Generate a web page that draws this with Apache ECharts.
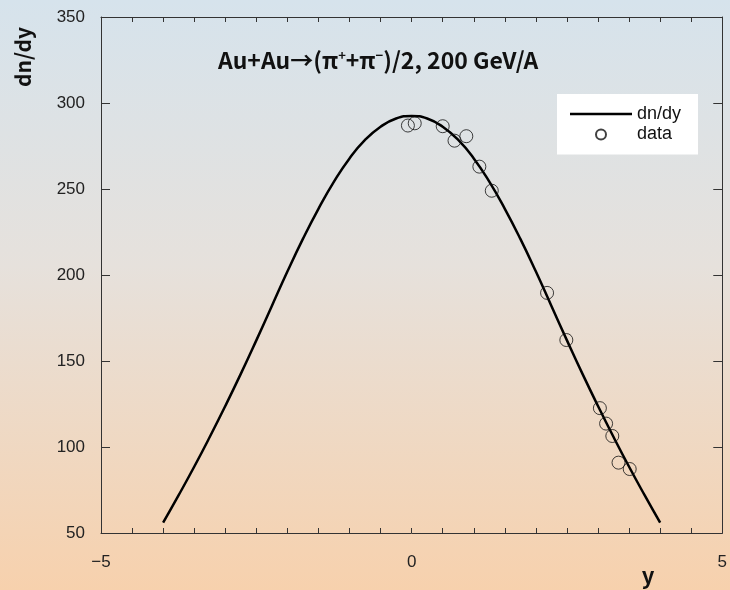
<!DOCTYPE html>
<html>
<head>
<meta charset="utf-8">
<script src="https://cdn.jsdelivr.net/npm/echarts@6/dist/echarts.min.js"></script>
<style>html,body{margin:0;padding:0;}#c{width:730px;height:590px;}</style>
</head>
<body>
<div id="c"></div>
<script>
// Fitted curve dn/dy
var curveX = [-4,-3.75,-3.5,-3.25,-3,-2.75,-2.5,-2.25,-2,-1.75,-1.5,-1.25,-1,-0.75,-0.5,-0.25,0,
              0.25,0.5,0.75,1,1.25,1.5,1.75,2,2.25,2.5,2.75,3,3.25,3.5,3.75,4];
var curveY = [56,72,88.5,105.8,123.8,142.5,162,182,202,221,238.5,254.3,267.8,278.5,286.2,291,292.5,
              291,286.2,278.5,267.8,254.3,238.5,221,202,182,162,142.5,123.8,105.8,88.5,72,56];
// Measured data points
var dataX = [-0.06,0.05,0.50,0.69,0.88,1.09,1.29,2.18,2.49,3.03,3.13,3.23,3.33,3.51];
var dataY = [286.9,288.2,286.5,278.1,280.7,263,249,189.6,162.2,122.6,113.6,106.4,90.9,87.2];
var xTicks = [-5,0,5];
var yTicks = [50,100,150,200,250,300,350];

var curve = curveX.map(function(x,i){return [x,curveY[i]];});
var pts = dataX.map(function(x,i){return [x,dataY[i]];});

var chart = echarts.init(document.getElementById('c'));
var axisCol = '#333';
var numFont = 'Liberation Sans';
function xAx(pos, labels){
  return {
    type:'value', min:-5, max:5, interval:0.5, position:pos,
    axisLine:{show:true,onZero:false,lineStyle:{color:axisCol,width:1}},
    axisTick:{show:true,inside:true,length:5,lineStyle:{color:axisCol}},
    splitLine:{show:false},
    axisLabel:{show:labels,margin:21,fontFamily:numFont,fontSize:17,color:'#222',
      showMinLabel:true,showMaxLabel:true,interval:0,
      formatter:function(v){
        var r=Math.round(v*10)/10;
        return xTicks.indexOf(r)>=0?String(r).replace('-','−'):'';}}
  };
}
function yAx(pos, labels){
  return {
    type:'value', min:50, max:350, interval:50, position:pos,
    axisLine:{show:true,onZero:false,lineStyle:{color:axisCol,width:1}},
    axisTick:{show:true,inside:true,length:9,lineStyle:{color:axisCol}},
    splitLine:{show:false},
    axisLabel:{show:labels,margin:16,fontFamily:numFont,fontSize:17,color:'#222',
      formatter:function(v){return yTicks.indexOf(v)>=0?String(v):'';}}
  };
}
chart.setOption({
  animation:false,
  backgroundColor:{type:'linear',x:0,y:0,x2:0,y2:1,colorStops:[
    {offset:0,color:'#d6e3ec'},{offset:0.45,color:'#e6e1dc'},{offset:1,color:'#f7d1ad'}]},
  title:{
    text:'{a|Au+Au→(π}{s|+}{a|+π}{s|−}{a|)/2, 200 GeV/A}',
    left:213, top:44,
    textStyle:{rich:{
      a:{fontFamily:'Noto Sans CJK JP',fontWeight:'bold',fontSize:23,color:'#111'},
      s:{fontFamily:'Noto Sans CJK JP',fontWeight:'bold',fontSize:13,color:'#111',verticalAlign:'top',padding:[0,0,10,0]}
    }}
  },
  grid:{left:101,right:4,top:17,bottom:57,containLabel:false},
  legend:{
    orient:'vertical', left:557, top:94,
    backgroundColor:'#fff', padding:[10,17,10,13],
    itemWidth:62, itemHeight:10, itemGap:0.4,
    textStyle:{fontFamily:numFont,fontSize:18,color:'#111',lineHeight:20},
    data:[{name:'dn/dy',icon:'path://M0,0h62v2.5h-62z'},{name:'data'}]
  },
  xAxis:[xAx('bottom',true), xAx('top',false)],
  yAxis:[yAx('left',true), yAx('right',false)],
  graphic:[
    {type:'text',x:23,y:57,rotation:Math.PI/2,
      style:{text:'dn/dy',font:'bold 21px "Noto Sans CJK JP"',fill:'#111',
        align:'center',verticalAlign:'middle',textAlign:'center',textVerticalAlign:'middle'}},
    {type:'text',x:648,y:576,
      style:{text:'y',font:'bold 22px "Noto Sans CJK JP"',fill:'#111',
        align:'center',verticalAlign:'middle',textAlign:'center',textVerticalAlign:'middle'}}
  ],
  series:[{
    name:'dn/dy', type:'line', data:curve, smooth:0.5, symbol:'none',
    lineStyle:{color:'#000',width:2.5}, itemStyle:{color:'#000'}, z:3
  },{
    name:'data', type:'scatter', data:pts, symbol:'circle', symbolSize:13,
    itemStyle:{color:'rgba(0,0,0,0)',borderColor:'#111',borderWidth:1}, z:4
  }]
});
</script>
</body>
</html>
